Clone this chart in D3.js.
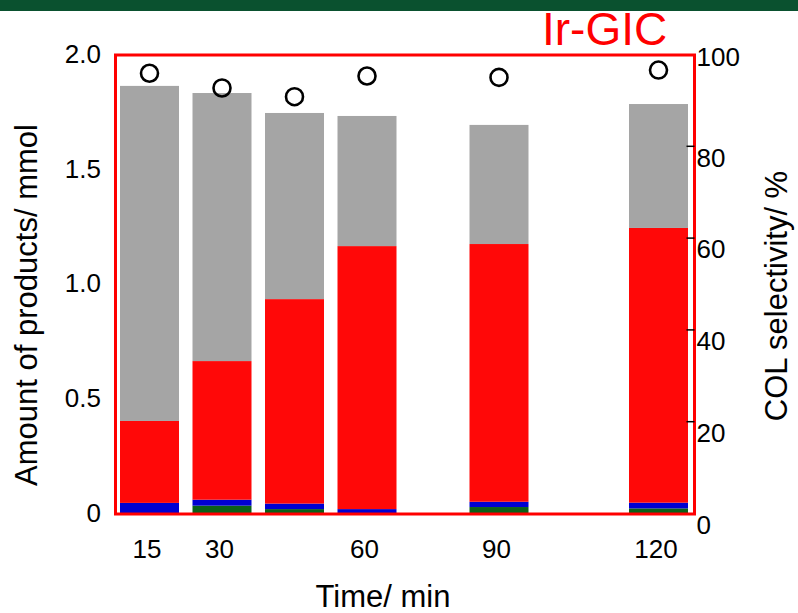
<!DOCTYPE html>
<html>
<head>
<meta charset="utf-8">
<script src="https://cdn.jsdelivr.net/npm/d3@7"></script>
<style>
  body { margin: 0; background: #fff; }
  svg { display: block; font-family: "Liberation Sans", Arial, sans-serif; }
</style>
</head>
<body>
<svg id="chart" width="798" height="613"></svg>
<script>
// values
const times = [15, 30, 45, 60, 90, 120];
const timeLabels = [15, 30, 60, 90, 120];
const productA = [0, 0.032, 0.017, 0, 0.026, 0.020];        // green, bottom
const productB = [0.044, 0.026, 0.024, 0.017, 0.023, 0.025]; // blue
const productC = [0.357, 0.604, 0.891, 1.146, 1.123, 1.197]; // red
const productD = [1.460, 1.168, 0.811, 0.567, 0.519, 0.540]; // gray, top
const colSelectivity = [95.8, 92.6, 90.7, 95.2, 94.9, 96.5];
const leftTicks = [0, 0.5, 1.0, 1.5, 2.0];
const rightTicks = [0, 20, 40, 60, 80, 100];

const keys = ["A", "B", "C", "D"];
const colors = { A: "#0b6118", B: "#0000d2", C: "#ff0808", D: "#a5a5a5" };
const rows = times.map((t, i) => ({ t: t, A: productA[i], B: productB[i], C: productC[i], D: productD[i] }));

const svg = d3.select("#chart");
const frame = { left: 115.5, right: 694.5, top: 55, bottom: 514 };

// time axis is not linear in the original
const x = d3.scaleLinear().domain([15, 60, 90, 120]).range([149.5, 367, 499, 658.5]);
const barW = 59;
const y = d3.scaleLinear().domain([0, 2]).range([513, 54]);
const y2 = d3.scaleLinear().domain([0, 100]).range([513, 54]);

svg.append("rect").attr("width", 798).attr("height", 613).attr("fill", "#fff");
svg.append("rect").attr("width", 798).attr("height", 11).attr("fill", "#0a512f");

svg.append("text")
  .attr("x", 542).attr("y", 45)
  .attr("font-size", 46).attr("fill", "#ff0000")
  .text("Ir-GIC");

const stacked = d3.stack().keys(keys)(rows);
svg.append("g").selectAll("g")
  .data(stacked)
  .join("g")
  .attr("fill", d => colors[d.key])
  .selectAll("rect")
  .data(d => d)
  .join("rect")
  .attr("x", d => x(d.data.t) - barW / 2)
  .attr("width", barW)
  .attr("y", d => y(d[1]))
  .attr("height", d => y(d[0]) - y(d[1]));

// red frame
svg.append("rect")
  .attr("x", frame.left).attr("y", frame.top)
  .attr("width", frame.right - frame.left)
  .attr("height", frame.bottom - frame.top)
  .attr("fill", "none").attr("stroke", "#ff0000").attr("stroke-width", 3);

// left axis
const gl = svg.append("g")
  .attr("transform", "translate(101,0)")
  .call(d3.axisLeft(y).tickValues(leftTicks).tickSize(0).tickPadding(0)
    .tickFormat(d => d === 0 ? "0" : d3.format(".1f")(d)));
gl.select(".domain").remove();
gl.selectAll("text").attr("font-size", 26).attr("fill", "#000")
  .attr("font-family", "Liberation Sans, Arial, sans-serif");

// right axis (labels sit a bit below their ticks, as in the original)
const gr = svg.append("g")
  .attr("transform", "translate(" + frame.right + ",0)")
  .call(d3.axisRight(y2).tickValues(rightTicks).tickSize(-8).tickPadding(2));
gr.select(".domain").remove();
gr.selectAll(".tick line").attr("stroke", "#000").attr("stroke-width", 1.5)
  .filter(d => d === 0 || d === 100).remove();
gr.selectAll("text").attr("font-size", 26).attr("fill", "#000")
  .attr("dy", d => d === 100 ? "0.45em" : "0.78em")
  .attr("font-family", "Liberation Sans, Arial, sans-serif");

// bottom labels
const gb = svg.append("g")
  .attr("transform", "translate(-3,540)")
  .call(d3.axisBottom(x).tickValues(timeLabels).tickSize(0).tickPadding(0));
gb.select(".domain").remove();
gb.selectAll("text").attr("font-size", 26).attr("fill", "#000")
  .attr("font-family", "Liberation Sans, Arial, sans-serif");

// selectivity points
svg.append("g").selectAll("circle")
  .data(times.map((t, i) => ({ t: t, v: colSelectivity[i] })))
  .join("circle")
  .attr("cx", d => x(d.t))
  .attr("cy", d => y2(d.v))
  .attr("r", 8.5)
  .attr("fill", "none").attr("stroke", "#000").attr("stroke-width", 2.6);

// axis titles
svg.append("text")
  .attr("transform", "translate(37,305) rotate(-90)")
  .attr("text-anchor", "middle").attr("font-size", 31)
  .text("Amount of products/ mmol");
svg.append("text")
  .attr("transform", "translate(787,296) rotate(-90)")
  .attr("text-anchor", "middle").attr("font-size", 31)
  .text("COL selectivity/ %");
svg.append("text")
  .attr("x", 383).attr("y", 607)
  .attr("text-anchor", "middle").attr("font-size", 31)
  .text("Time/ min");
</script>
</body>
</html>
